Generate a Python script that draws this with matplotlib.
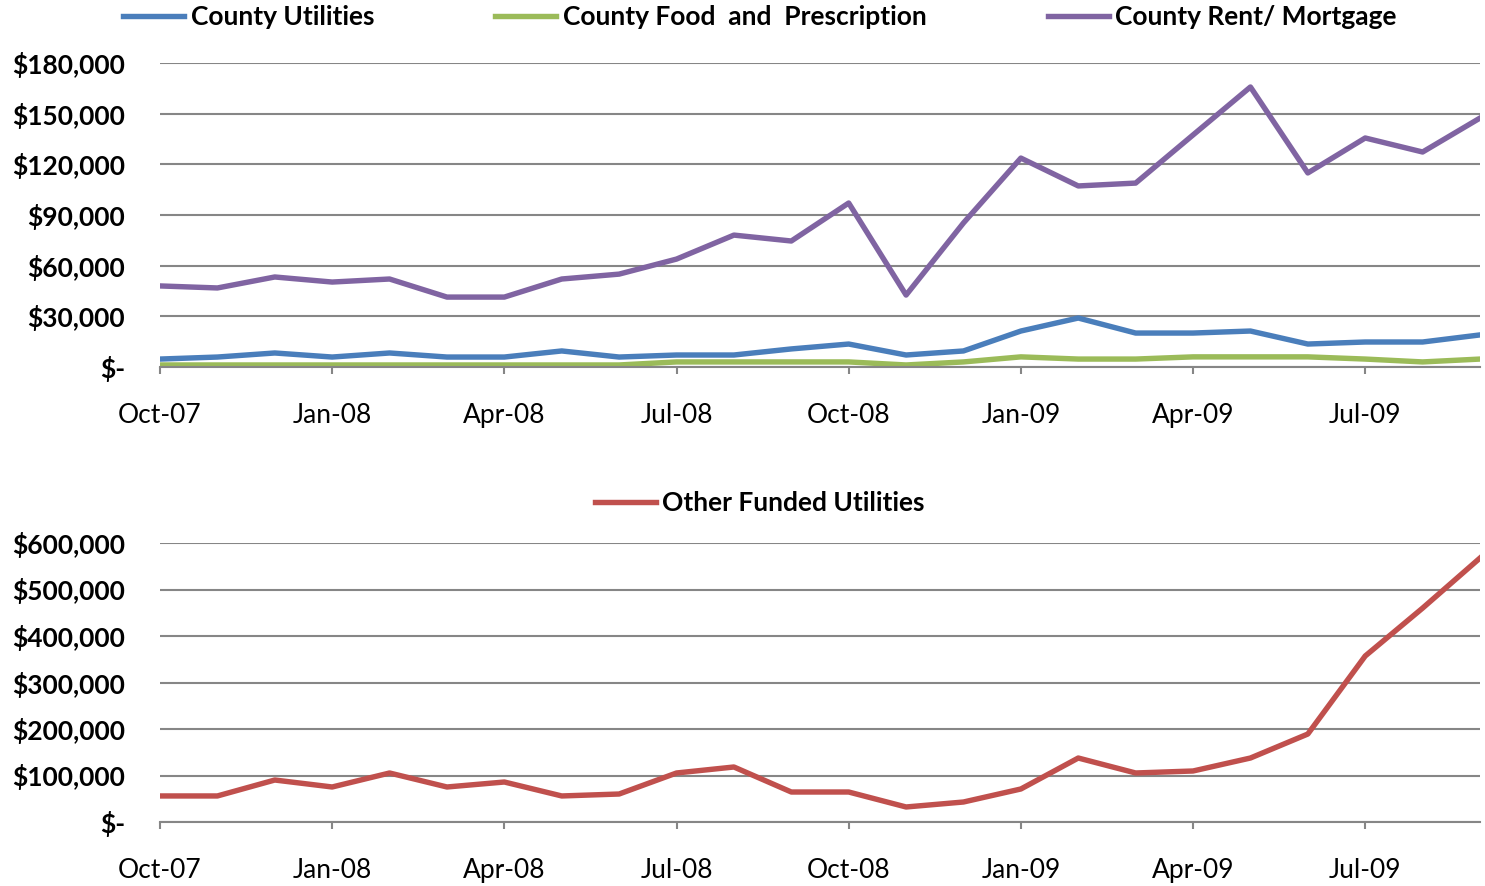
import matplotlib.pyplot as plt
from matplotlib.ticker import FuncFormatter

plt.rcParams['font.family'] = ['Lato', 'DejaVu Sans']

months = ['Oct-07', 'Nov-07', 'Dec-07', 'Jan-08', 'Feb-08', 'Mar-08', 'Apr-08', 'May-08',
          'Jun-08', 'Jul-08', 'Aug-08', 'Sep-08', 'Oct-08', 'Nov-08', 'Dec-08', 'Jan-09',
          'Feb-09', 'Mar-09', 'Apr-09', 'May-09', 'Jun-09', 'Jul-09', 'Aug-09', 'Sep-09']

county_utilities = [4700, 5900, 8300, 5900, 8300, 5900, 5900, 9500, 5900, 7100, 7100, 10700,
                    13600, 7100, 9500, 21300, 29000, 20100, 20100, 21300, 13600, 14800, 14800, 19000]
county_food = [1200, 1200, 1200, 1200, 1200, 1200, 1200, 1200, 1200, 3000, 3000, 3000,
               3000, 1200, 3000, 6000, 4700, 4700, 6000, 6000, 6000, 4700, 3000, 4700]
county_rent = [48000, 46800, 53300, 50300, 52100, 41400, 41400, 52100, 55000, 63900, 78100, 74600,
               97100, 42600, 85300, 123700, 107200, 108900, 137400, 165800, 114900, 135600, 127300, 147400]
other_utilities = [56000, 56000, 90300, 75300, 105400, 75300, 86000, 56000, 60200, 105400, 118300, 64500,
                   64500, 32300, 43000, 71000, 137600, 105400, 109700, 137600, 189200, 357000, 460000, 567700]

top_ticks = [0, 30000, 60000, 90000, 120000, 150000, 180000]
bottom_ticks = [0, 100000, 200000, 300000, 400000, 500000, 600000]


def money(v, pos):
    if v == 0:
        return '$-'
    return '${:,.0f}'.format(v)


fig = plt.figure(figsize=(14.85, 8.86), dpi=100)
ax1 = fig.add_axes([160 / 1485, 1 - 367 / 886, 1320 / 1485, 304 / 886])
ax2 = fig.add_axes([160 / 1485, 1 - 822 / 886, 1320 / 1485, 279 / 886])

x = list(range(len(months)))
lw = 3.9
fs = 19
l1, = ax1.plot(x, county_utilities, color='#4A7EBB', lw=lw, label='County Utilities')
l2, = ax1.plot(x, county_food, color='#9BBB59', lw=lw, label='County Food  and  Prescription')
l3, = ax1.plot(x, county_rent, color='#8064A2', lw=lw, label='County Rent/ Mortgage')
l4, = ax2.plot(x, other_utilities, color='#C0504D', lw=lw, label='Other Funded Utilities')

for ax, ticks in [(ax1, top_ticks), (ax2, bottom_ticks)]:
    ax.set_xlim(0, len(months) - 1)
    ax.set_ylim(ticks[0], ticks[-1])
    ax.set_yticks(ticks)
    ax.yaxis.set_major_formatter(FuncFormatter(money))
    ax.grid(axis='y', color='#868686', lw=1.5)
    ax.set_axisbelow(True)
    for s in ['top', 'right', 'left']:
        ax.spines[s].set_visible(False)
    ax.spines['bottom'].set_color('#868686')
    ax.spines['bottom'].set_linewidth(1.5)
    ax.set_xticks(x[::3])
    ax.set_xticklabels(months[::3])
    ax.tick_params(axis='y', length=0, pad=25, labelsize=fs)
    ax.tick_params(axis='x', length=5, width=1.5, color='#868686', pad=21, labelsize=fs)
    for lab in ax.get_yticklabels():
        lab.set_fontweight('bold')

fig.legend(handles=[l1, l2, l3], loc='center', bbox_to_anchor=(760 / 1485, 1 - 17 / 886), ncol=3,
           frameon=False, handlelength=2.3, handletextpad=0.25, columnspacing=4.6,
           prop={'weight': 'bold', 'size': fs})
fig.legend(handles=[l4], loc='center', bbox_to_anchor=(760 / 1485, 1 - 503 / 886), ncol=1,
           frameon=False, handlelength=2.3, handletextpad=0.25,
           prop={'weight': 'bold', 'size': fs})

fig.savefig('out.png', dpi=100)
